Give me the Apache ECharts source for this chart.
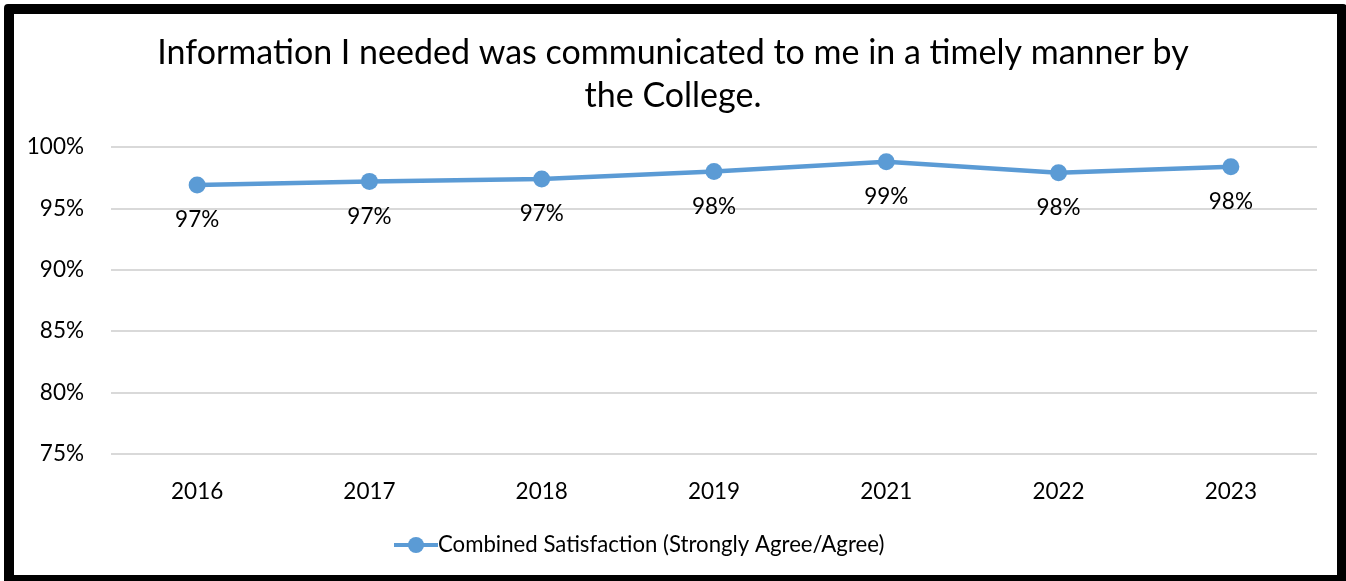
<!DOCTYPE html>
<html>
<head>
<meta charset="utf-8">
<script src="https://cdn.jsdelivr.net/npm/echarts@6/dist/echarts.min.js"></script>
<style>
  html, body { margin: 0; padding: 0; background: #ffffff; overflow: hidden; }
  #wrap { position: relative; width: 1346px; height: 581px; overflow: hidden; background: #fff; }
  #chart { position: absolute; left: 0; top: 0; width: 1346px; height: 581px; }
  #frame { position: absolute; left: 4px; top: 4px; width: 1323px; height: 561px; border: 10px solid #000; border-radius: 4px; pointer-events: none; }
</style>
</head>
<body>
<div id="wrap">
  <div id="chart"></div>
  <div id="frame"></div>
</div>
<script>
const titleText = 'Information I needed was communicated to me in a timely manner by\nthe College.';
const categories = ['2016', '2017', '2018', '2019', '2021', '2022', '2023'];
const seriesName = 'Combined Satisfaction (Strongly Agree/Agree)';
const satisfaction = [0.969, 0.972, 0.974, 0.980, 0.988, 0.979, 0.984];
const yMin = 0.75, yMax = 1.0, yStep = 0.05;

const FONT = 'Lato';
const chart = echarts.init(document.getElementById('chart'), null, { renderer: 'canvas' });
chart.setOption({
  animation: false,
  backgroundColor: '#ffffff',
  textStyle: { fontFamily: FONT },
  title: {
    text: titleText,
    left: 'center',
    top: 27,
    textStyle: { fontFamily: FONT, fontSize: 34, fontWeight: 'normal', color: '#000', lineHeight: 43, align: 'center' }
  },
  grid: { left: 111, right: 29, top: 147, bottom: 127, containLabel: false },
  legend: {
    data: [seriesName],
    bottom: 20,
    left: 387,
    itemWidth: 44,
    itemHeight: 20,
    itemGap: 4,
    lineStyle: { width: 4, color: '#5B9BD5' },
    itemStyle: { color: '#5B9BD5' },
    textStyle: { fontFamily: FONT, fontSize: 22.2, color: '#000', padding: [0,0,0,-5] }
  },
  xAxis: {
    type: 'category',
    data: categories,
    boundaryGap: true,
    axisLine: { show: false },
    axisTick: { show: false },
    axisLabel: { fontFamily: FONT, fontSize: 22.5, color: '#000', margin: 26 }
  },
  yAxis: {
    type: 'value',
    min: yMin, max: yMax, interval: yStep,
    axisLine: { show: false },
    axisTick: { show: false },
    splitLine: { lineStyle: { color: '#d9d9d9', width: 2 } },
    axisLabel: { fontFamily: FONT, fontSize: 22.5, color: '#000', margin: 27,
      formatter: v => Math.round(v * 100) + '%' }
  },
  series: [{
    name: seriesName,
    type: 'line',
    data: satisfaction,
    symbol: 'circle',
    symbolSize: 17,
    lineStyle: { color: '#5B9BD5', width: 4.5 },
    itemStyle: { color: '#5B9BD5' },
    label: {
      show: true,
      position: 'bottom',
      distance: 15,
      fontFamily: FONT, fontSize: 22.5, color: '#000',
      formatter: p => Math.round(p.value * 100) + '%'
    }
  }]
});
</script>
</body>
</html>
